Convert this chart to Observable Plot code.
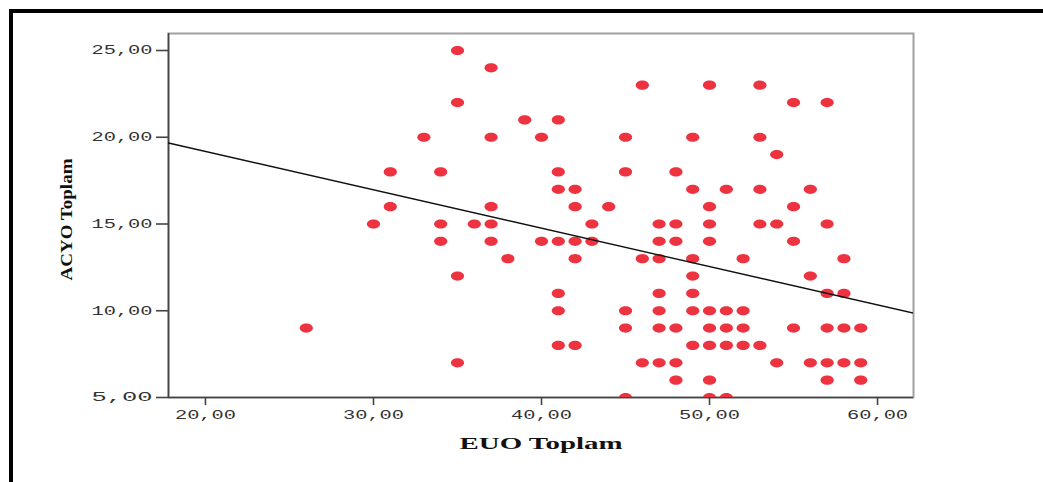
<!DOCTYPE html>
<html>
<head>
<meta charset="utf-8">
<script src="https://cdn.jsdelivr.net/npm/d3@7"></script>
<script src="https://cdn.jsdelivr.net/npm/@observablehq/plot@0.6"></script>
<style>
  html, body { margin: 0; padding: 0; background: #fff; }
  #wrap { position: relative; width: 1043px; height: 482px; overflow: hidden; background: #fff; }
  #border { position: absolute; left: 9px; top: 9px; width: 1100px; height: 600px;
            border-top: 4px solid #000; border-left: 4px solid #000; pointer-events: none; }
  svg { display: block; }
</style>
</head>
<body>
<div id="wrap"><div id="border"></div></div>
<script>
// EUO Toplam (x) and ACYO Toplam (y), one entry per visible point
const euo = [
  26,
  30,
  31, 31,
  33,
  34, 34, 34,
  35, 35, 35, 35,
  36,
  37, 37, 37, 37, 37,
  38,
  39,
  40, 40,
  41, 41, 41, 41, 41, 41, 41,
  42, 42, 42, 42, 42,
  43, 43,
  44,
  45, 45, 45, 45, 45,
  46, 46, 46,
  47, 47, 47, 47, 47, 47, 47,
  48, 48, 48, 48, 48, 48,
  49, 49, 49, 49, 49, 49, 49,
  50, 50, 50, 50, 50, 50, 50, 50, 50,
  51, 51, 51, 51, 51,
  52, 52, 52, 52,
  53, 53, 53, 53, 53,
  54, 54, 54,
  55, 55, 55, 55,
  56, 56, 56,
  57, 57, 57, 57, 57, 57,
  58, 58, 58, 58,
  59, 59, 59
];
const acyo = [
  9,
  15,
  18, 16,
  20,
  18, 15, 14,
  25, 22, 12, 7,
  15,
  24, 20, 16, 15, 14,
  13,
  21,
  20, 14,
  21, 18, 17, 14, 11, 10, 8,
  17, 16, 14, 13, 8,
  15, 14,
  16,
  20, 18, 10, 9, 5,
  23, 13, 7,
  15, 14, 13, 11, 10, 9, 7,
  18, 15, 14, 9, 7, 6,
  20, 17, 13, 12, 11, 10, 8,
  23, 16, 15, 14, 10, 9, 8, 6, 5,
  17, 10, 9, 8, 5,
  13, 10, 9, 8,
  23, 20, 17, 15, 8,
  19, 15, 7,
  22, 16, 14, 9,
  17, 12, 7,
  22, 15, 11, 9, 7, 6,
  13, 11, 9, 7,
  9, 7, 6
];
// Fit line (endpoints at the axis extent)
const fitX = [17.8, 62.14];
const fitY = [19.67, 9.86];

const xTicks = [20, 30, 40, 50, 60];
const yTicks = [5, 10, 15, 20, 25];
const xDomain = [17.8, 62.14];
const yDomain = [5, 25.98];
const xTitle = "EUO Toplam";
const yTitle = "ACYO Toplam";

const points = euo.map((x, i) => ({x, y: acyo[i]}));
const fit = fitX.map((x, i) => ({x, y: fitY[i]}));
const fmt = d => d.toFixed(2).replace(".", ",");

const ellipse = {
  draw(ctx) {
    const rx = 6.6, ry = 4.6, k = 0.5523;
    ctx.moveTo(rx, 0);
    ctx.bezierCurveTo(rx, ry * k, rx * k, ry, 0, ry);
    ctx.bezierCurveTo(-rx * k, ry, -rx, ry * k, -rx, 0);
    ctx.bezierCurveTo(-rx, -ry * k, -rx * k, -ry, 0, -ry);
    ctx.bezierCurveTo(rx * k, -ry, rx, -ry * k, rx, 0);
    ctx.closePath();
  }
};

const chart = Plot.plot({
  width: 1043,
  height: 482,
  marginLeft: 168,
  marginRight: 130,
  marginTop: 33,
  marginBottom: 85,
  style: {background: "#fff", fontFamily: "Liberation Mono", fontSize: "12px", color: "#333"},
  x: {domain: xDomain, ticks: xTicks, tickFormat: fmt, tickSize: 8, tickPadding: 5, label: null},
  y: {domain: yDomain, ticks: yTicks, tickFormat: fmt, tickSize: 12, tickPadding: 4, label: null},
  marks: [
    Plot.frame({stroke: "#a0a0a0", strokeWidth: 2}),
    Plot.ruleX([xDomain[0]], {stroke: "#444", strokeWidth: 1.6}),
    Plot.ruleY([yDomain[0]], {stroke: "#444", strokeWidth: 1.6}),
    Plot.dot(points, {x: "x", y: "y", symbol: ellipse, fill: "#ee3340", stroke: "none", clip: "frame"}),
    Plot.line(fit, {x: "x", y: "y", stroke: "#111", strokeWidth: 1.4, clip: "frame"}),
    Plot.axisX({ticks: xTicks, tickFormat: fmt, tickSize: 8, tickPadding: 5, stroke: "#444", strokeWidth: 1.6, fill: "#333", label: null}),
    Plot.axisY({ticks: yTicks, tickFormat: fmt, tickSize: 12, tickPadding: 4, stroke: "#444", strokeWidth: 1.6, fill: "#333", label: null}),
    Plot.text([xTitle], {frameAnchor: "bottom", dy: 46, text: d => d, fontFamily: "Liberation Serif", fontWeight: "bold", fontSize: 16, fill: "#111", lineAnchor: "middle"}),
    Plot.text([yTitle], {frameAnchor: "left", dx: -102, dy: 65, rotate: -90, textAnchor: "start", text: d => d, fontFamily: "Liberation Serif", fontWeight: "bold", fontSize: 16, fill: "#111", lineAnchor: "middle"})
  ]
});

document.getElementById("wrap").insertBefore(chart, document.getElementById("border"));

// stretch text to the wide lettering of the original
d3.select(chart).selectAll('g[aria-label="x-axis tick label"] text, g[aria-label="y-axis tick label"] text')
  .attr("textLength", 61).attr("lengthAdjust", "spacingAndGlyphs");
d3.select(chart).selectAll('g[aria-label="text"] text').each(function() {
  const t = this.textContent;
  d3.select(this).attr("textLength", t === xTitle ? 163 : 122).attr("lengthAdjust", "spacingAndGlyphs");
});
</script>
</body>
</html>
